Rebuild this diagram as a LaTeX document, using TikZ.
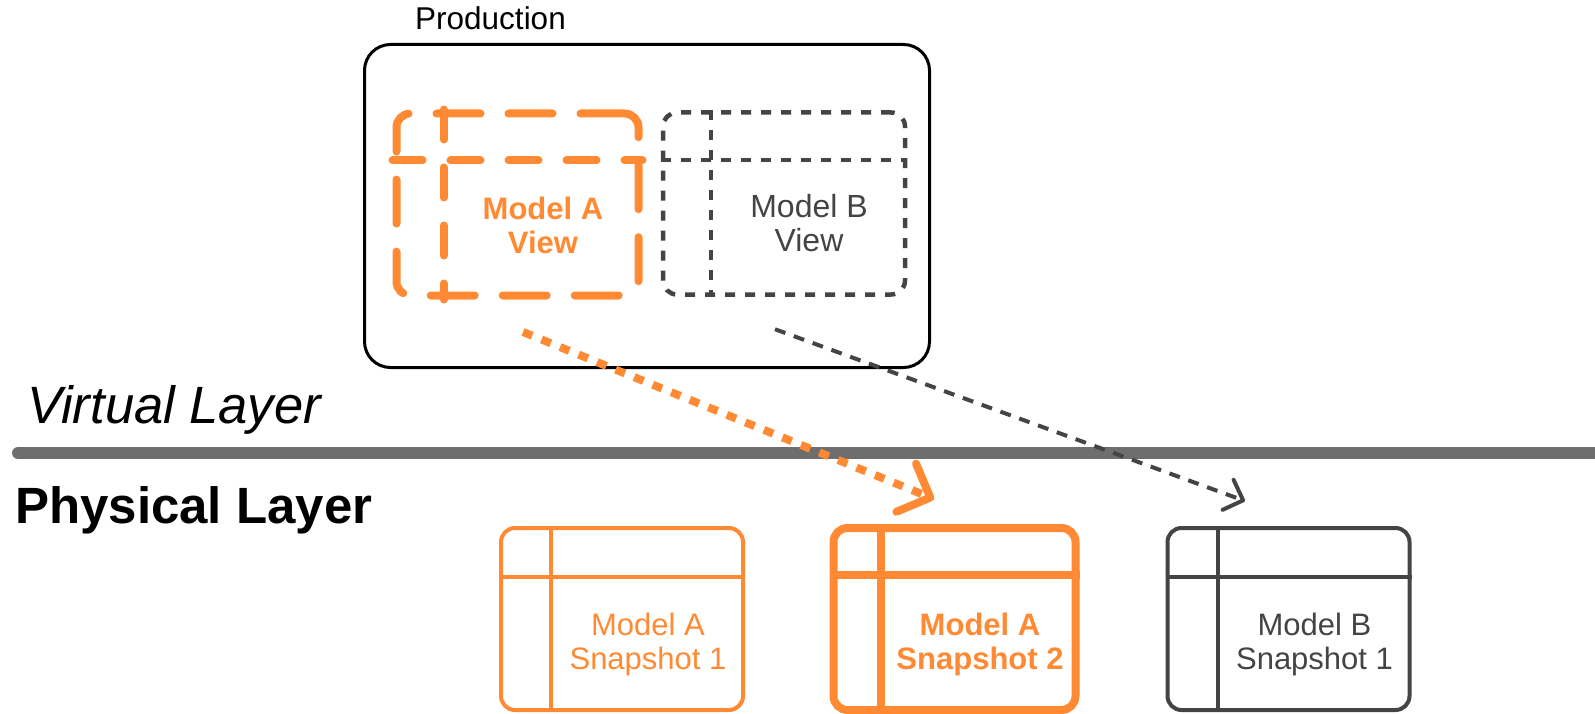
\documentclass[tikz,border=0pt]{standalone}
\usepackage{fontspec}
\setmainfont{Liberation Sans}
\usetikzlibrary{arrows.meta,positioning,calc}
\definecolor{accent}{HTML}{FF8A33}
\definecolor{ink}{HTML}{444444}
\definecolor{rulegray}{HTML}{6E6E6E}

\begin{document}
\begin{tikzpicture}[x=1pt, y=-1pt,
  tbl/.style={minimum width=242pt, minimum height=182pt, inner sep=0pt,
              rounded corners=14pt},
  viewa/.style={draw=accent, line width=8pt, line cap=round,
                dash pattern=on 44pt off 28pt},
  viewaline/.style={accent, line width=8pt, line cap=round,
                    dash pattern=on 30pt off 28pt},
  viewb/.style={draw=ink, line width=4.5pt, dash pattern=on 10pt off 10pt},
  viewbline/.style={ink, line width=4.5pt, dash pattern=on 10pt off 10pt},
  snapa/.style={draw=accent, line width=4pt},
  snapcur/.style={draw=accent, line width=8pt},
  snapb/.style={draw=ink, line width=4pt},
  cell/.style={align=center, inner sep=0pt, font=\fontsize{31}{34}\selectfont},
  arra/.style={accent, line width=8pt, dash pattern=on 10pt off 10pt,
               -{Straight Barb[length=26pt, width=52pt, round]}},
  arrb/.style={ink, line width=4pt, dash pattern=on 11pt off 9pt,
               -{Straight Barb[length=16pt, width=32pt, round]}}]
  \useasboundingbox (0,0) rectangle (1595,714);

  \node[draw=black, line width=3pt, rounded corners=26pt, minimum width=565pt,
        minimum height=323pt] (prod) at (647,206) {};
  \node[anchor=base west, inner sep=0pt, font=\fontsize{31.5}{36}\selectfont]
    (prodlabel) at (415,30) {Production};

  \node[tbl, viewa] (va) at (517.5,204.5) {};
  \draw[viewaline] ($(va.north west)+(51,0)$) -- ($(va.south west)+(51,0)$);
  \draw[viewaline] ($(va.north west)+(0,51)$) -- ($(va.north east)+(0,51)$);
  \node[cell, text=accent, font=\fontsize{31}{34}\selectfont\bfseries] (vatext)
    at ($($(va.north west)+(51,51)$)!.5!(va.south east)+(0,-5)$) {Model A\\View};

  \node[tbl, viewb] (vb) at (784,203.5) {};
  \draw[viewbline] ($(vb.north west)+(50,0)$) -- ($(vb.south west)+(50,0)$);
  \draw[viewbline] ($(vb.north west)+(0,50)$) -- ($(vb.north east)+(0,50)$);
  \node[cell, text=ink, font=\fontsize{32}{34}\selectfont] (vbtext)
    at ($($(vb.north west)+(50,50)$)!.5!(vb.south east)+(0,-5)$) {Model B\\View};

  \draw[line width=12pt, rulegray, line cap=round] (18,453) -- (1620,453);
  \node[anchor=base west, inner sep=0pt, font=\fontsize{52.5}{60}\selectfont\itshape]
    (virtual) at (27,423) {Virtual Layer};
  \node[anchor=base west, inner sep=0pt, font=\fontsize{51}{60}\selectfont\bfseries]
    (physical) at (15,523) {Physical Layer};

  \node[tbl, snapa] (s1) at (622,619) {};
  \draw[snapa] ($(s1.north west)+(52,0)$) -- ($(s1.south west)+(52,0)$);
  \draw[snapa] ($(s1.north west)+(0,51)$) -- ($(s1.north east)+(0,51)$);
  \node[cell, text=accent] (s1text)
    at ($($(s1.north west)+(52,51)$)!.5!(s1.south east)$) {Model A\\Snapshot 1};

  \node[tbl, snapcur] (s2) at (954.5,619) {};
  \draw[snapcur] ($(s2.north west)+(51,0)$) -- ($(s2.south west)+(51,0)$);
  \draw[snapcur] ($(s2.north west)+(0,51)$) -- ($(s2.north east)+(0,51)$);
  \node[cell, text=accent, font=\fontsize{31}{34}\selectfont\bfseries] (s2text)
    at ($($(s2.north west)+(51,51)$)!.5!(s2.south east)$) {Model A\\Snapshot 2};

  \node[tbl, snapb] (sb) at (1288.5,619) {};
  \draw[snapb] ($(sb.north west)+(52,0)$) -- ($(sb.south west)+(52,0)$);
  \draw[snapb] ($(sb.north west)+(0,51)$) -- ($(sb.north east)+(0,51)$);
  \node[cell, text=ink] (sbtext)
    at ($($(sb.north west)+(52,51)$)!.5!(sb.south east)$) {Model B\\Snapshot 1};

  \coordinate (afrom) at ($(va.south)+(5.5,32.5)$);
  \coordinate (ato) at ($(s2.north)+(-20.5,-25)$);
  \coordinate (bfrom) at ($(vb.south)+(-9,32.5)$);
  \coordinate (bto) at ($(sb.north)+(-43.5,-25)$);
  \draw[arra] (afrom) -- (ato);
  \draw[arrb] (bfrom) -- (bto);
\end{tikzpicture}
\end{document}
